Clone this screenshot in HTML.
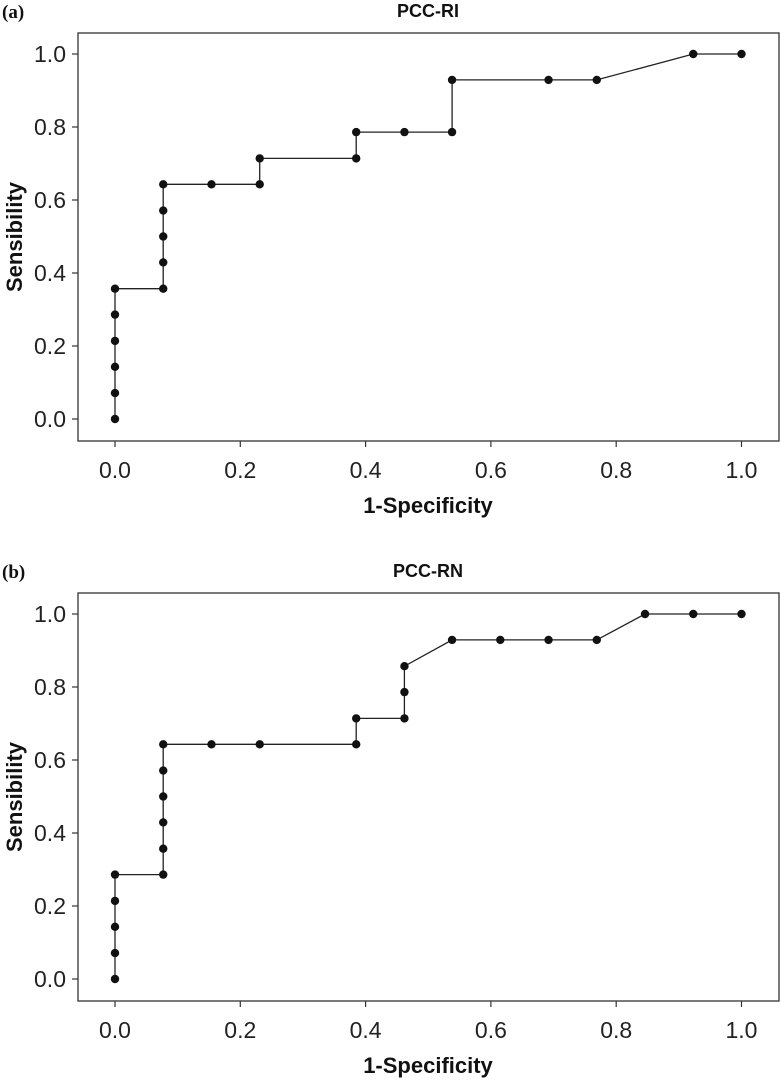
<!DOCTYPE html>
<html><head><meta charset="utf-8"><style>
html,body{margin:0;padding:0;background:#fff;}
svg{display:block;font-family:"Liberation Sans",Arial,sans-serif;}
</style></head><body>
<svg id="fig" width="780" height="1080" viewBox="0 0 780 1080"></svg>
<script>
const xTicks = [0, 0.2, 0.4, 0.6, 0.8, 1.0];
const yTicks = [0, 0.2, 0.4, 0.6, 0.8, 1.0];
const tickLabels = ["0.0", "0.2", "0.4", "0.6", "0.8", "1.0"];
const riX = [0,0,0,0,0,0,0.077,0.077,0.077,0.077,0.077,0.154,0.231,0.231,0.385,0.385,0.462,0.538,0.538,0.692,0.769,0.923,1.0];
const riY = [0,0.071,0.143,0.214,0.286,0.357,0.357,0.429,0.5,0.571,0.643,0.643,0.643,0.714,0.714,0.786,0.786,0.786,0.929,0.929,0.929,1.0,1.0];
const rnX = [0,0,0,0,0,0.077,0.077,0.077,0.077,0.077,0.077,0.154,0.231,0.385,0.385,0.462,0.462,0.462,0.538,0.615,0.692,0.769,0.846,0.923,1.0];
const rnY = [0,0.071,0.143,0.214,0.286,0.286,0.357,0.429,0.5,0.571,0.643,0.643,0.643,0.643,0.714,0.714,0.786,0.857,0.929,0.929,0.929,0.929,1.0,1.0,1.0];
const NS = "http://www.w3.org/2000/svg";
const svg = document.getElementById('fig');
function mk(tag, attrs, parent, text){
  const e = document.createElementNS(NS, tag);
  for (const k in attrs) e.setAttribute(k, attrs[k]);
  if (text !== undefined) e.textContent = text;
  (parent || svg).appendChild(e);
  return e;
}
function panel(off, letter, title, xs, ys, key){
  const g = mk('g', {});
  
  
  const sx = v => 115 + v * 626.5;
  const sy = v => off + 419 - v * 365;
  const box = mk('rect', {x:78, y:off+33, width:701, height:408, fill:'none', stroke:'#333', 'stroke-width':1.3}, g);
  
  
  const lab = mk('text', {x:2, y:off+18, 'font-family':'Liberation Serif, serif', 'font-weight':'bold', 'font-size':19, fill:'#111'}, g, '(' + letter + ')');
  
  
  const t = mk('text', {x:428, y:off+17, 'text-anchor':'middle', 'font-weight':'bold', 'font-size':18, fill:'#111'}, g, title);
  
  
  xTicks.forEach((v, i) => {
    mk('line', {x1:sx(v), x2:sx(v), y1:off+441, y2:off+447, stroke:'#333', 'stroke-width':1.2}, g);
    const tl = mk('text', {x:sx(v), y:off+478, 'text-anchor':'middle', 'font-size':23, fill:'#222'}, g, tickLabels[i]);
    
    
  });
  yTicks.forEach((v, i) => {
    mk('line', {x1:72, x2:78, y1:sy(v), y2:sy(v), stroke:'#333', 'stroke-width':1.2}, g);
    const tl = mk('text', {x:66, y:sy(v)+8, 'text-anchor':'end', 'font-size':23, fill:'#222'}, g, tickLabels[i]);
    
    
  });
  const xt = mk('text', {x:428, y:off+513, 'text-anchor':'middle', 'font-weight':'bold', 'font-size':22, fill:'#111'}, g, '1-Specificity');
  
  
  const yt = mk('text', {x:0, y:0, 'text-anchor':'middle', 'font-weight':'bold', 'font-size':22, fill:'#111', transform:'translate(22,' + (off+237) + ') rotate(-90)'}, g, 'Sensibility');
  
  
  const pts = xs.map((x, i) => sx(x).toFixed(1) + ',' + sy(ys[i]).toFixed(1)).join(' ');
  const line = mk('polyline', {points:pts, fill:'none', stroke:'#222', 'stroke-width':1.3}, g);
  
  
  xs.forEach((x, i) => {
    const c = mk('circle', {cx:sx(x), cy:sy(ys[i]), r:4.2, fill:'#111'}, g);
    
    
  });
}
panel(0, 'a', 'PCC-RI', riX, riY, 'pcc-ri');
panel(560, 'b', 'PCC-RN', rnX, rnY, 'pcc-rn');
</script>
</body></html>
